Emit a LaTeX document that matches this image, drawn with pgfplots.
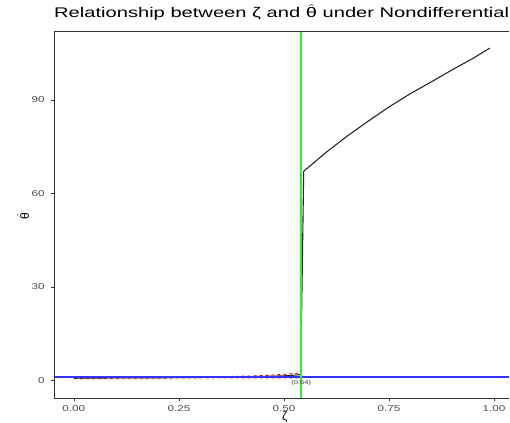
\documentclass[border=0pt]{standalone}
\usepackage{fontspec}
\setmainfont{Liberation Sans}
\usepackage{amsmath}
\usepackage{pgfplots}
\pgfplotsset{compat=1.18}
\definecolor{tickgray}{gray}{0.3}
\definecolor{axgray}{gray}{0.2}
\definecolor{rgreen}{HTML}{33EE33}
\definecolor{rblue}{HTML}{3333FF}
\begin{document}
\begin{tikzpicture}[x=1pt,y=1pt]
\begin{axis}[
  scale only axis, width=456pt, height=368pt,
  xmin=-0.0475, xmax=1.036, ymin=-5.8, ymax=112.1,
  axis line style={draw=none},
  xtick pos=bottom, ytick pos=left,
  xtick={0,0.25,0.5,0.75,1}, xticklabels={0.00,0.25,0.50,0.75,1.00},
  ytick={0,30,60,90},
  tick align=outside, major tick length=3pt,
  tick style={axgray, line width=0.5pt},
  ticklabel style={font=\fontsize{8.5}{9}\selectfont, text=tickgray, xscale=1.38},
  /pgf/number format/assume math mode=true,
  xticklabel style={yshift=-1pt},
  yticklabel style={xshift=-1pt},
  xlabel={ζ},
  ylabel={$\hat{\text{θ}}$},
  label style={font=\fontsize{12}{12}\selectfont},
  xlabel style={at={(axis description cs:0.507,0)}, anchor=center, yshift=-18.5pt, inner sep=0pt},
  ylabel style={at={(axis description cs:0,0.497)}, anchor=center, yshift=31pt, inner sep=0pt},
  title={Relationship between ζ and $\hat{\text{θ}}$ under Nondifferential},
  title style={at={(axis description cs:0,1)}, anchor=base west, yshift=7pt, inner sep=0pt,
    font=\fontsize{14}{16}\selectfont, xscale=1.44},
  clip=true,
]
% lower dashed band
\addplot[red!35, dashed, line width=0.9pt] coordinates {
(0.0,0.4) (0.1,0.4) (0.2,0.45) (0.3,0.45) (0.4,0.5) (0.5,0.55) (0.535,0.6)};
% upper dashed band
\addplot[red!85!black, dashed, line width=0.9pt] coordinates {
(0.0,0.6) (0.1,0.7) (0.2,0.8) (0.3,1.0) (0.4,1.3) (0.45,1.5) (0.5,1.9) (0.535,2.3)};
% purple dashed
\addplot[violet, dashed, line width=0.9pt] coordinates {
(0.0,0.8) (0.1,0.8) (0.2,0.85) (0.3,0.9) (0.4,0.95) (0.5,1.0) (0.535,1.0)};
% main estimate
\addplot[black!85, line width=1.1pt] coordinates {
(0.0,0.7) (0.1,0.75) (0.2,0.8) (0.3,0.9) (0.4,1.1) (0.5,1.4) (0.540,1.8)
(0.547,67.0) (0.55,67.4) (0.60,73.1) (0.65,78.3) (0.70,83.1) (0.75,87.7)
(0.80,91.9) (0.85,95.7) (0.90,99.6) (0.95,103.3) (0.99,106.6)};
% reference lines
\addplot[rblue, line width=1.3pt] coordinates {(-0.0475,1) (1.036,1)};
\addplot[rgreen, line width=1.7pt] coordinates {(0.541,-5.8) (0.541,112.1)};
\node[font=\fontsize{5.5}{6}\selectfont, text=black!80, xscale=1.38] at (axis cs:0.541,-0.9) {(0.54)};
\draw[axgray, line width=0.6pt] (rel axis cs:1,1) -- (rel axis cs:0,1) -- (rel axis cs:0,0) -- (rel axis cs:1,0);
\end{axis}
\path[use as bounding box] (-54,-24) rectangle (456,399);
\end{tikzpicture}
\end{document}
